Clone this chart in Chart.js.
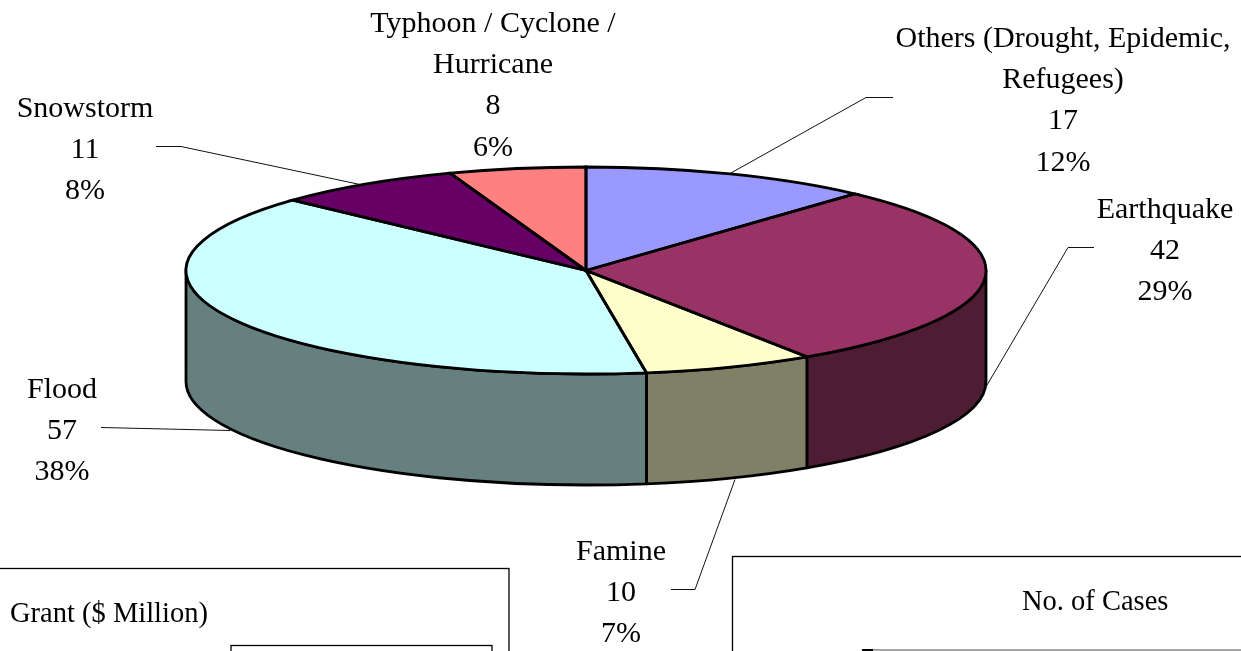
<!DOCTYPE html>
<html>
<head>
<meta charset="utf-8">
<title>Disaster grants by type</title>
<script src="https://cdn.jsdelivr.net/npm/chart.js@4"></script>
<style>
html,body{margin:0;padding:0;background:#fff;overflow:hidden}
canvas{display:block}
</style>
</head>
<body>
<canvas id="c" width="1241" height="651"></canvas>
<script>
// ---- data ----
const categories = ["Others (Drought, Epidemic, Refugees)", "Earthquake", "Famine", "Flood", "Snowstorm", "Typhoon / Cyclone / Hurricane"];
const caseValues = [17, 42, 10, 57, 11, 8];
const percentLabels = ["12%", "29%", "7%", "38%", "8%", "6%"];
const panelTitles = ["Grant ($ Million)", "No. of Cases"];

// ---- styling ----
const topColors = ["#9999FF", "#993366", "#FFFFCC", "#CCFFFF", "#660066", "#FF8080"];
const sideColors = ["#4D4D80", "#4F1D33", "#808066", "#668080", "#330033", "#804040"];
const labelLines = [
  ["Others (Drought, Epidemic,", "Refugees)"], ["Earthquake"], ["Famine"], ["Flood"], ["Snowstorm"], ["Typhoon / Cyclone /", "Hurricane"]
];
const labelAnchors = [[1063, 39], [1165, 210], [621, 552], [62, 390], [85, 109], [493, 24]];
const leaders = [
  [[893, 97], [866, 97], [730, 173]],
  [[1094, 247], [1068, 247], [985, 388]],
  [[671, 589], [695, 589], [735, 479]],
  [[101, 427], [230, 430]],
  [[156, 146], [181, 146], [360, 184]]
];
const RX = 400, RY = 103.5, DEPTH = 111, LINE_H = 41.3, EDGE = 2.8;

const pie3d = {
  id: "pie3d",
  beforeDatasetsDraw(chart) {
    const ctx = chart.ctx, arcs = chart.getDatasetMeta(0).data;
    const cx = arcs[0].x, cy = arcs[0].y, k = RY / arcs[0].outerRadius;
    // extruded wall, built from the library's own arc angles
    arcs.forEach((a, i) => {
      const s = Math.max(a.startAngle, 0), e = Math.min(a.endAngle, Math.PI);
      if (e <= s) return;
      ctx.beginPath();
      ctx.ellipse(cx, cy, RX, RY, 0, s, e);
      ctx.ellipse(cx, cy + DEPTH, RX, RY, 0, e, s, true);
      ctx.closePath();
      ctx.fillStyle = sideColors[i];
      ctx.fill();
      ctx.lineWidth = EDGE;
      ctx.lineJoin = "round";
      ctx.strokeStyle = "#000";
      ctx.stroke();
    });
    ctx.save();
    ctx.translate(cx, cy);
    ctx.scale(1, k);
    ctx.translate(-cx, -cy);
  },
  afterDatasetsDraw(chart) {
    const ctx = chart.ctx, arcs = chart.getDatasetMeta(0).data;
    ctx.restore();
    const cx = arcs[0].x, cy = arcs[0].y;
    arcs.forEach(a => {
      ctx.beginPath();
      ctx.moveTo(cx, cy);
      ctx.ellipse(cx, cy, RX, RY, 0, a.startAngle, a.endAngle);
      ctx.closePath();
      ctx.lineWidth = EDGE;
      ctx.lineJoin = "miter";
      ctx.strokeStyle = "#000";
      ctx.stroke();
    });
  },
  afterDraw(chart) {
    const ctx = chart.ctx;
    ctx.save();
    // leader lines
    ctx.strokeStyle = "#111";
    ctx.lineWidth = 1;
    leaders.forEach(pts => {
      ctx.beginPath();
      pts.forEach((p, i) => i ? ctx.lineTo(p[0], p[1] + .5) : ctx.moveTo(p[0], p[1] + .5));
      ctx.stroke();
    });
    // data labels
    ctx.fillStyle = "#000";
    ctx.textAlign = "center";
    ctx.textBaseline = "middle";
    ctx.font = '30px "Liberation Serif"';
    categories.forEach((c, i) => {
      const lines = labelLines[i].concat(String(caseValues[i]), percentLabels[i]);
      lines.forEach((t, j) => ctx.fillText(t, labelAnchors[i][0], labelAnchors[i][1] + j * LINE_H));
    });
    // neighbouring panels cut off by the frame
    ctx.strokeStyle = "#000";
    ctx.lineWidth = 1.3;
    ctx.strokeRect(-5, 568.5, 514, 100);
    ctx.strokeRect(231, 645.5, 261, 30);
    ctx.strokeRect(732.5, 556.5, 520, 120);
    ctx.strokeStyle = "#888";
    ctx.beginPath(); ctx.moveTo(862, 650); ctx.lineTo(1241, 650); ctx.stroke();
    ctx.strokeStyle = "#000";
    ctx.lineWidth = 2;
    ctx.beginPath(); ctx.moveTo(862, 650); ctx.lineTo(873, 650); ctx.stroke();
    ctx.font = '28.5px "Liberation Serif"';
    ctx.textAlign = "left";
    ctx.fillText(panelTitles[0], 10, 615);
    ctx.fillText(panelTitles[1], 1022, 603);
    ctx.restore();
  }
};

new Chart(document.getElementById("c"), {
  type: "pie",
  data: {
    labels: categories,
    datasets: [{
      data: caseValues,
      backgroundColor: topColors,
      borderWidth: 0,
      clip: false
    }]
  },
  options: {
    responsive: false,
    animation: false,
    radius: RX,
    rotation: 0,
    layout: { padding: { right: 69, bottom: 110 } },
    plugins: { legend: { display: false }, tooltip: { enabled: false }, title: { display: false } }
  },
  plugins: [pie3d]
});
</script>
</body>
</html>
